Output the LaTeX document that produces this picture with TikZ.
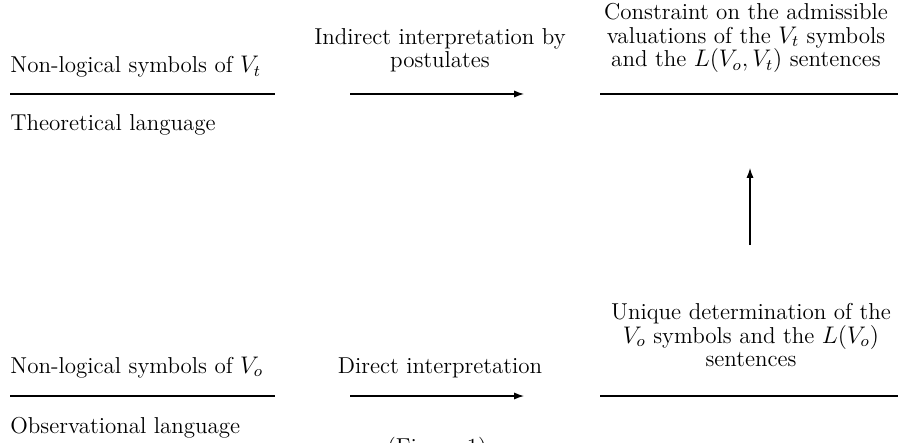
\documentclass[tikz,border=0pt]{standalone}
\usetikzlibrary{arrows.meta}
\begin{document}
\begin{tikzpicture}[x=0.5pt,y=-0.5pt,
  every node/.style={inner sep=0pt,font=\fontsize{11.5}{11.75}\selectfont},
  hl/.style={line width=0.6pt},
  arr/.style={line width=0.6pt,-{Latex[length=5pt,width=3.6pt]}}]
\useasboundingbox (0,0) rectangle (898,443);
% theoretical row
\node[anchor=base west] (vt) at (10,73) {Non-logical symbols of $V_t$};
\node[anchor=base west] (tl) at (10,130.5) {Theoretical language};
\coordinate (tla) at (10,94); \coordinate (tlb) at (275,94);
\draw[hl] (tla) -- (tlb);
\node[anchor=north,align=center] (ind) at (440,28) {Indirect interpretation by\\postulates};
\coordinate (a1s) at (350,94); \coordinate (a1e) at (524,94);
\draw[arr] (a1s) -- (a1e);
\node[anchor=north,align=center] (con) at (746,3) {Constraint on the admissible\\valuations of the $V_t$ symbols\\and the $L(V_o,V_t)$ sentences};
\coordinate (tra) at (600,94); \coordinate (trb) at (898,94);
\draw[hl] (tra) -- (trb);
% vertical arrow
\coordinate (vs) at (750,245); \coordinate (ve) at (750,168);
\draw[arr] (vs) -- (ve);
% observational row
\node[anchor=north,align=center] (uni) at (751,303) {Unique determination of the\\$V_o$ symbols and the $L(V_o)$\\sentences};
\coordinate (bra) at (600,396); \coordinate (brb) at (898,396);
\draw[hl] (bra) -- (brb);
\node[anchor=base west] (vo) at (10,373) {Non-logical symbols of $V_o$};
\coordinate (bla) at (10,396); \coordinate (blb) at (275,396);
\draw[hl] (bla) -- (blb);
\node[anchor=base west] (ol) at (10,433) {Observational language};
\node[anchor=base] (dir) at (440,373) {Direct interpretation};
\coordinate (a2s) at (350,396); \coordinate (a2e) at (524,396);
\draw[arr] (a2s) -- (a2e);
\node[anchor=base] (fig) at (437,454) {(Figure 1)};
\end{tikzpicture}
\end{document}
